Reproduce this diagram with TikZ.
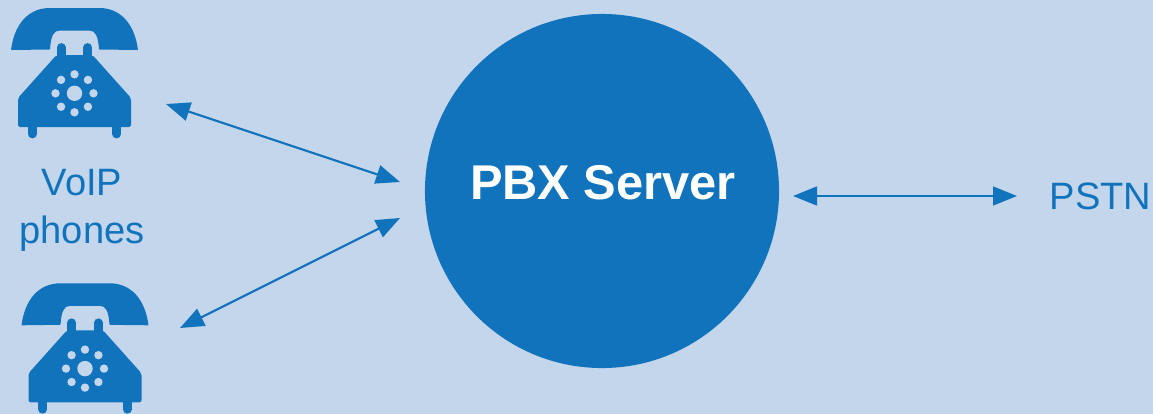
\documentclass[tikz,border=0pt]{standalone}
\usepackage{fontspec}
\setmainfont{Liberation Sans}
\usetikzlibrary{arrows.meta}
\definecolor{pbxblue}{RGB}{16,115,188}
\definecolor{pbxback}{RGB}{196,214,236}
\tikzset{
  link/.style={draw=pbxblue,line width=1.5pt,{Triangle[length=0.6cm,width=0.47cm]}-{Triangle[length=0.6cm,width=0.47cm]}},
  label/.style={text=pbxblue,font=\fontsize{27.1}{32}\selectfont,inner sep=0pt},
  server/.style={circle,fill=pbxblue,text=white,inner sep=0pt,minimum size=8.85cm,font=\fontsize{34.7}{40}\selectfont\bfseries},
  pics/phone/.style={code={
    % 听筒
    \fill[pbxblue,rounded corners=0.5pt] (-63.5,50) .. controls (-60,24) and (-46,8) .. (-24,8) -- (24,8)
      .. controls (46,8) and (60,24) .. (63.5,50) -- (24.5,49.5) .. controls (23.5,36) and (21,30.5) .. (14,30.5)
      -- (-14,30.5) .. controls (-21,30.5) and (-23.5,36) .. (-24.5,49.5) -- cycle;
    % 机身
    \fill[pbxblue,rounded corners=1.5pt] (-18,55) -- (-56.5,98) -- (-56.5,127) -- (56.5,127) -- (56.5,98) -- (18,55) -- cycle;
    \foreach \x in {-13.25,13.25}
      \draw[pbxblue,line width=0.22cm,line cap=round] (\x,47.5) -- (\x,58);
    \foreach \x in {-42.25,42.25}
      \draw[pbxblue,line width=0.22cm,line cap=round] (\x,125) -- (\x,134);
    % 拨号盘
    \fill[pbxback] (0,93.3) circle (7.7);
    \foreach \a in {0,45,...,315}
      \fill[pbxback] ({19*cos(\a)},{93.3+19*sin(\a)}) circle (4.2);
  }}
}
\begin{document}
\begin{tikzpicture}[x=0.025cm,y=-0.025cm]
  % 背景
  \fill[pbxback] (0,0) rectangle (1153,414);
  \useasboundingbox (0,0) rectangle (1153,414);

  % 电话
  \pic at (74.5,0) {phone};
  \pic at (85,275.3) {phone};

  % 节点
  \node[server] (pbx) at (602,191) {\raisebox{0.43cm}{\hspace{0.05cm}PBX Server}};
  \node[label,anchor=base] (voip) at (82,195) {VoIP};
  \node[label,anchor=base] (phones) at (82,243) {phones};
  \node[label,anchor=base west] (pstn) at (1049.5,209.3) {PSTN};

  % 连线端点
  \coordinate (phoneA) at (166,104);
  \coordinate (phoneB) at (180,328);
  \coordinate (pbxA) at (400,182);
  \coordinate (pbxB) at (400,218);
  \coordinate (pbxC) at (793,196);
  \coordinate (pstnW) at (1017,196);

  % 连线
  \draw[link] (phoneA) -- (pbxA);
  \draw[link] (phoneB) -- (pbxB);
  \draw[link] (pbxC) -- (pstnW);
\end{tikzpicture}
\end{document}
